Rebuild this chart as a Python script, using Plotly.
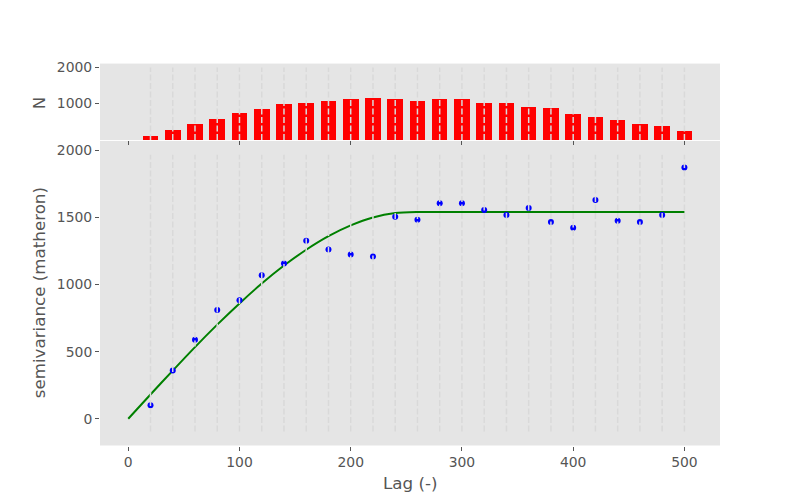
import plotly.graph_objects as go

# ---- data ----
lags = [20, 40, 60, 80, 100, 120, 140, 160, 180, 200, 220, 240, 260,
        280, 300, 320, 340, 360, 380, 400, 420, 440, 460, 480, 500]
semivariance = [101, 359, 588, 810, 883, 1068, 1156, 1326, 1260, 1223, 1208, 1505, 1482,
                1606, 1606, 1555, 1518, 1570, 1466, 1422, 1629, 1474, 1466, 1518, 1872]
pair_counts = [118, 282, 445, 582, 745, 855, 991, 1018, 1073, 1127, 1155, 1127, 1073,
               1127, 1127, 1018, 1018, 909, 882, 718, 636, 555, 445, 391, 255]
model_lags = [0, 20, 40, 60, 80, 100, 120, 140, 160, 180, 200, 220, 240, 260,
              280, 300, 320, 340, 360, 380, 400, 420, 440, 460, 480, 500]
model_values = [0, 181, 359, 534, 701, 859, 1007, 1141, 1259, 1360, 1440, 1499, 1532, 1540,
                1540, 1540, 1540, 1540, 1540, 1540, 1540, 1540, 1540, 1540, 1540, 1540]
x_ticks = [0, 100, 200, 300, 400, 500]
y_ticks = [0, 500, 1000, 1500, 2000]
n_ticks = [1000, 2000]

# bounds of the dashed bin lines (data units)
main_vline_bounds = [-94, 1966]
hist_vline_bounds = [0, 1990]

TXT = "#555555"
BG = "#E5E5E5"
FONT = "DejaVu Sans"
W, H = 800, 500
OFF = 8  # page body margin offset to compensate


def px_x(p):
    return (p - OFF) / W


def px_y(p):
    return 1 - (p - OFF) / H


def vline_xy(xs, bounds):
    vx, vy = [], []
    for v in xs:
        vx += [v, v, None]
        vy += [bounds[0], bounds[1], None]
    return vx, vy


fig = go.Figure()

# histogram
fig.add_trace(go.Bar(x=lags, y=pair_counts, width=14, marker=dict(color="#FF0000", line=dict(width=0)),
                     xaxis="x2", yaxis="y2", showlegend=False))
hx, hy = vline_xy(lags, hist_vline_bounds)
fig.add_trace(go.Scatter(x=hx, y=hy, mode="lines", xaxis="x2", yaxis="y2",
                         line=dict(color="#D9D9D9", width=1.5, dash="6px,2.5px"),
                         showlegend=False, hoverinfo="skip"))

# model line + experimental points
fig.add_trace(go.Scatter(x=model_lags, y=model_values, mode="lines",
                         line=dict(color="#008000", width=2, shape="spline", smoothing=0.8),
                         showlegend=False))
fig.add_trace(go.Scatter(x=lags, y=semivariance, mode="markers",
                         marker=dict(color="#0000FF", size=6, line=dict(width=0)),
                         showlegend=False))
mx, my = vline_xy(lags, main_vline_bounds)
fig.add_trace(go.Scatter(x=mx, y=my, mode="lines",
                         line=dict(color="#D9D9D9", width=1.5, dash="6px,2.5px"),
                         showlegend=False, hoverinfo="skip"))

axis_common = dict(showgrid=False, zeroline=False, showline=False, ticks="outside",
                   ticklen=4, tickwidth=1, tickcolor=TXT,
                   tickfont=dict(family=FONT, size=13.9, color=TXT))

xdom = [px_x(100), px_x(720)]
xrange_ = [-25.4, 532]
fig.update_layout(
    width=W, height=H,
    margin=dict(l=0, r=0, t=0, b=0),
    paper_bgcolor="white", plot_bgcolor=BG,
    font=dict(family=FONT, color=TXT),
    bargap=0,
    xaxis=dict(domain=xdom, range=xrange_, tickvals=x_ticks, anchor="y", **axis_common),
    yaxis=dict(domain=[px_y(445), px_y(138)], range=[-199, 2069], tickvals=y_ticks,
               anchor="x", **axis_common),
    xaxis2=dict(domain=xdom, range=xrange_, tickvals=x_ticks, anchor="y2", matches="x",
                showticklabels=False, **axis_common),
    yaxis2=dict(domain=[px_y(137), px_y(60)], range=[0, 2100], tickvals=n_ticks, anchor="x2",
                **axis_common),
    annotations=[
        dict(text="semivariance (matheron)", x=px_x(39), y=px_y(291.5), xref="paper", yref="paper",
             textangle=-90, showarrow=False, xanchor="center", yanchor="middle",
             font=dict(family=FONT, size=16.7, color=TXT)),
        dict(text="N", x=px_x(39), y=px_y(100), xref="paper", yref="paper",
             textangle=-90, showarrow=False, xanchor="center", yanchor="middle",
             font=dict(family=FONT, size=16.7, color=TXT)),
        dict(text="Lag (-)", x=px_x(410), y=px_y(482.3), xref="paper", yref="paper",
             showarrow=False, xanchor="center", yanchor="middle",
             font=dict(family=FONT, size=16.7, color=TXT)),
    ],
)

fig.write_html("out.html")
